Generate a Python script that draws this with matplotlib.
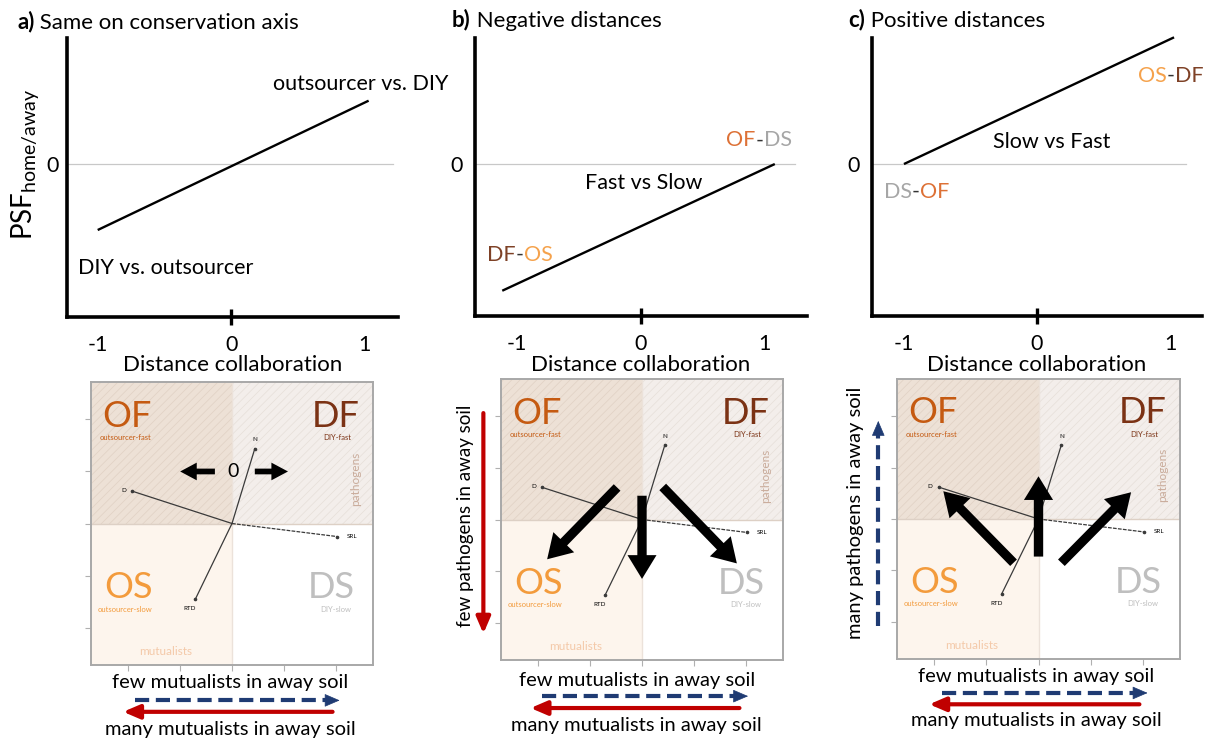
import matplotlib
matplotlib.use("Agg")
import matplotlib.pyplot as plt
from matplotlib.offsetbox import TextArea, HPacker, AnnotationBbox

plt.rcParams['font.family'] = ['Lato', 'DejaVu Sans']
plt.rcParams['mathtext.fontset'] = 'custom'
plt.rcParams['mathtext.rm'] = 'Lato'
plt.rcParams['mathtext.it'] = 'Lato:italic'
plt.rcParams['hatch.linewidth'] = 0.5
plt.rcParams['axes.unicode_minus'] = False

# --- top row: PSF vs distance lines ---
dist_ticks = [-1, 0, 1]
dist_labels = ['-1', '0', '1']
psf_a_x = [-1.0, 1.03]
psf_a_y = [-0.50, 0.48]
psf_b_x = [-1.12, 1.08]
psf_b_y = [-0.96, 0.0]
psf_c_x = [-1.0, 1.03]
psf_c_y = [0.0, 0.96]

# --- bottom row: trait ordination ---
traits = ['N', 'D', 'SRL', 'RTD']
trait_x = [0.44, -1.92, 2.02, -0.71]
trait_y = [1.44, 0.62, -0.25, -1.46]
grid_ticks = [-2, -1, 0, 1, 2]

quad_codes = ['OF', 'DF', 'OS', 'DS']
quad_names = ['outsourcer-fast', 'DIY-fast', 'outsourcer-slow', 'DIY-slow']

# shift arrows (start, end) in trait space
shift_a = [((-0.33, 1.0), (-1.0, 1.0)), ((0.44, 1.0), (1.08, 1.0))]
shift_b = [((-0.48, 0.62), (-1.83, -0.77)), ((0.0, 0.46), (0.0, -1.15)),
           ((0.40, 0.63), (1.83, -0.85))]
shift_c = [((-0.48, -0.85), (-1.83, 0.54)), ((0.0, -0.73), (0.0, 0.83)),
           ((0.44, -0.85), (1.78, 0.52))]

OF_c, DF_c, OS_c, DS_c = '#c55a11', '#7b3214', '#f39b3c', '#bfbfbf'
OF_t, DF_t, OS_t, DS_t = '#dd7136', '#7e4126', '#f5a24c', '#a6a6a6'
blue, red = '#1f3b73', '#c00000'
FS = 15.5
FS2 = 14.5

W, H = 1208, 740
fig = plt.figure(figsize=(W / 100, H / 100), dpi=100)


def px_axes(l, t, r, b):
    return fig.add_axes([l / W, 1 - b / H, (r - l) / W, (b - t) / H])


def multi_text(ax, x, y, parts, size, coords='data'):
    boxes = [TextArea(t, textprops=dict(color=c, size=size, fontweight=w))
             for t, c, w in parts]
    pack = HPacker(children=boxes, align='baseline', pad=0, sep=0)
    ab = AnnotationBbox(pack, (x, y), xycoords=coords, box_alignment=(0, 0.5),
                        frameon=False, pad=0, annotation_clip=False)
    ax.add_artist(ab)


def psf_panel(box, xlim, lx, ly, zero_end):
    ax = px_axes(*box)
    ax.set_xlim(*xlim)
    ax.set_ylim(-(box[3] - 164) / 132, 0.955)
    for s in ['top', 'right']:
        ax.spines[s].set_visible(False)
    for s in ['left', 'bottom']:
        ax.spines[s].set_linewidth(2.6)
    ax.plot([xlim[0], zero_end], [0, 0], color='#c8c8c8', lw=0.9)
    ax.plot(lx, ly, color='black', lw=1.7, solid_capstyle='butt', clip_on=False)
    ax.set_xticks(dist_ticks)
    ax.set_xticklabels(dist_labels)
    ax.xaxis.remove_overlapping_locs = False
    ax.set_xticks([0], minor=True)
    ax.tick_params(axis='x', which='major', length=0, pad=13, labelsize=FS)
    ax.tick_params(axis='x', which='minor', length=12, width=2.4, direction='inout')
    ax.set_yticks([0])
    ax.set_yticklabels(['0'])
    ax.tick_params(axis='y', length=0, pad=6, labelsize=FS)
    ax.set_xlabel('Distance collaboration', fontsize=16)
    ax.xaxis.set_label_coords(0.5, -(365 - box[3]) / (box[3] - box[1]))
    ax.xaxis.label.set_verticalalignment('center')
    return ax


def big_arrows(ax, shifts, shaft, hw, hl):
    for (x0, y0), (x1, y1) in shifts:
        ax.arrow(x0, y0, x1 - x0, y1 - y0, width=shaft, head_width=hw,
                 head_length=hl, length_includes_head=True, color='black',
                 lw=0, zorder=6)


lim = 2.72


def trait_panel(box):
    ax = px_axes(*box)
    ax.set_xlim(-lim, lim)
    ax.set_ylim(-lim, lim)
    ax.fill_between([-lim, 0], 0, lim, facecolor='#ede1d6', edgecolor='#e0d1c4',
                    hatch='////', lw=0)
    ax.fill_between([0, lim], 0, lim, facecolor='#f3eeeb', edgecolor='#e6dfd9',
                    hatch='////', lw=0)
    ax.fill_between([-lim, 0], -lim, 0, facecolor='#fdf5ed', lw=0)
    ax.axhline(0, color='#ddd0c5', lw=1, zorder=1.5)
    ax.axvline(0, color='#ece2da', lw=1, zorder=1.5)
    for s in ax.spines.values():
        s.set_color('#a8a8a8')
        s.set_linewidth(1.4)
    ax.set_xticks(grid_ticks)
    ax.set_yticks(grid_ticks)
    ax.tick_params(length=4, color='#b0b0b0', labelbottom=False, labelleft=False)

    qx = [-2.5, 2.46, -2.46, 2.37]
    qy = [2.06, 2.06, -1.23, -1.23]
    nx = [-2.56, 2.31, -2.6, 2.31]
    ny = [1.65, 1.65, -1.65, -1.65]
    cols = [OF_c, DF_c, OS_c, DS_c]
    for i in range(4):
        ha = 'left' if qx[i] < 0 else 'right'
        ax.text(qx[i], qy[i], quad_codes[i], color=cols[i], fontsize=26,
                ha=ha, va='center')
        ax.text(nx[i], ny[i], quad_names[i], color=cols[i], fontsize=5.5,
                ha=ha, va='center')
    ax.text(2.38, 0.85, 'pathogens', color='#c9ab9a', fontsize=8.5,
            rotation=90, ha='center', va='center')
    ax.text(-1.29, -2.46, 'mutualists', color='#f4c9a9', fontsize=8.5,
            ha='center', va='center')

    for name, tx, ty in zip(traits, trait_x, trait_y):
        ls = (0, (3, 1)) if name == 'SRL' else '-'
        ax.plot([0, tx], [0, ty], color='#3a3a3a', lw=0.9, ls=ls)
        ax.plot([tx], [ty], 'o', color='#3a3a3a', ms=1.6)
    ax.text(trait_x[0], trait_y[0] + 0.17, 'N', fontsize=4.5, ha='center', va='center')
    ax.text(trait_x[1] - 0.17, trait_y[1] + 0.02, 'D', fontsize=4.5, ha='center', va='center')
    ax.text(trait_x[2] + 0.3, trait_y[2], 'SRL', fontsize=4.5, ha='center', va='center')
    ax.text(trait_x[3] - 0.1, trait_y[3] - 0.18, 'RTD', fontsize=4.5, ha='center', va='center')
    return ax


def mutualist_arrows(ax, cx, y_few, y_blue, y_red, y_many, bx, rx):
    ax.text(cx, y_few, 'few mutualists in away soil', fontsize=FS2,
            ha='center', va='center', clip_on=False)
    ax.plot([bx[0], bx[1] - 0.2], [y_blue, y_blue], color=blue, lw=3.0,
            ls=(0, (3.4, 1.6)), clip_on=False)
    ax.annotate('', xy=(bx[1], y_blue), xytext=(bx[1] - 0.3, y_blue),
                arrowprops=dict(arrowstyle='-|>,head_width=0.3,head_length=0.7',
                                color=blue, lw=0.5, mutation_scale=14),
                annotation_clip=False)
    ax.annotate('', xy=(rx[1], y_red), xytext=(rx[0], y_red),
                arrowprops=dict(arrowstyle='-|>,head_width=0.3,head_length=0.7',
                                color=red, lw=3.0, mutation_scale=14,
                                shrinkA=0, shrinkB=0),
                annotation_clip=False)
    ax.text(cx, y_many, 'many mutualists in away soil', fontsize=FS2,
            ha='center', va='center', clip_on=False)


# ---------------- panel a ----------------
ax = psf_panel((67, 38, 398, 317), (-1.23, 1.25), psf_a_x, psf_a_y, 1.21)
ax.set_ylabel(r'PSF$_\mathregular{home/away}$', fontsize=20, va='center')
ax.yaxis.set_label_coords(-0.127, 0.545)
ax.text(0.31, 0.61, 'outsourcer vs. DIY', fontsize=FS, va='center')
ax.text(-1.15, -0.79, 'DIY vs. outsourcer', fontsize=FS, va='center')
multi_text(ax, 17 / W, 1 - 22 / H, [('a)', 'black', 'bold'),
                                    (' Same on conservation axis', 'black', 'normal')],
           16, coords='figure fraction')

bx = trait_panel((91, 382, 373, 665))
big_arrows(bx, shift_a, 0.11, 0.34, 0.32)
bx.text(0.02, 1.0, '0', fontsize=14, ha='center', va='center')
mutualist_arrows(bx, -0.04, -3.06, -3.40, -3.62, -3.96, (-1.87, 2.13), (1.94, -2.1))

# ---------------- panel b ----------------
ax = psf_panel((475, 38, 807, 316), (-1.34, 1.34), psf_b_x, psf_b_y, 1.24)
ax.tick_params(axis='y', pad=9)
multi_text(ax, 0.69, 0.18, [('OF', OF_t, 'normal'), ('-', '#333333', 'normal'),
                            ('DS', DS_t, 'normal')], FS)
ax.text(-0.45, -0.14, 'Fast vs Slow', fontsize=FS, va='center')
multi_text(ax, -1.24, -0.69, [('DF', DF_t, 'normal'), ('-', '#333333', 'normal'),
                              ('OS', OS_t, 'normal')], FS)
multi_text(ax, 452 / W, 1 - 20 / H, [('b)', 'black', 'bold'),
                                     (' Negative distances', 'black', 'normal')],
           16, coords='figure fraction')

bx = trait_panel((501, 379, 783, 660))
big_arrows(bx, shift_b, 0.18, 0.56, 0.46)
bx.annotate('', xy=(-3.06, -2.21), xytext=(-3.06, 2.06),
            arrowprops=dict(arrowstyle='-|>,head_width=0.3,head_length=0.7',
                            color=red, lw=3.0, mutation_scale=14, shrinkA=0, shrinkB=0),
            annotation_clip=False)
bx.text(-3.40, 0.08, 'few pathogens in away soil', fontsize=13.5, rotation=90,
        ha='center', va='center', clip_on=False)
mutualist_arrows(bx, -0.1, -3.12, -3.42, -3.65, -3.98, (-1.92, 2.1), (1.88, -2.15))

# ---------------- panel c ----------------
ax = psf_panel((872, 38, 1202, 316), (-1.24, 1.24), psf_c_x, psf_c_y, 1.12)
ax.tick_params(axis='y', pad=9)
multi_text(ax, 0.76, 0.67, [('OS', OS_t, 'normal'), ('-', '#333333', 'normal'),
                            ('DF', DF_t, 'normal')], FS)
ax.text(-0.33, 0.17, 'Slow vs Fast', fontsize=FS, va='center')
multi_text(ax, -1.15, -0.21, [('DS', DS_t, 'normal'), ('-', '#333333', 'normal'),
                              ('OF', OF_t, 'normal')], FS)
multi_text(ax, 848 / W, 1 - 20 / H, [('c)', 'black', 'bold'),
                                     (' Positive distances', 'black', 'normal')],
           16, coords='figure fraction')

bx = trait_panel((897, 379, 1180, 659))
big_arrows(bx, shift_c, 0.18, 0.56, 0.46)
bx.plot([-3.08, -3.08], [-2.08, 1.96 - 0.2], color=blue, lw=3.0,
        ls=(0, (3.4, 1.6)), clip_on=False)
bx.annotate('', xy=(-3.08, 1.96), xytext=(-3.08, 1.66),
            arrowprops=dict(arrowstyle='-|>,head_width=0.3,head_length=0.7',
                            color=blue, lw=0.5, mutation_scale=14),
            annotation_clip=False)
bx.text(-3.52, 0.12, 'many pathogens in away soil', fontsize=14.5, rotation=90,
        ha='center', va='center', clip_on=False)
mutualist_arrows(bx, -0.04, -3.06, -3.38, -3.60, -3.92, (-1.85, 2.15), (1.94, -2.1))

fig.savefig('out.png', dpi=100)
